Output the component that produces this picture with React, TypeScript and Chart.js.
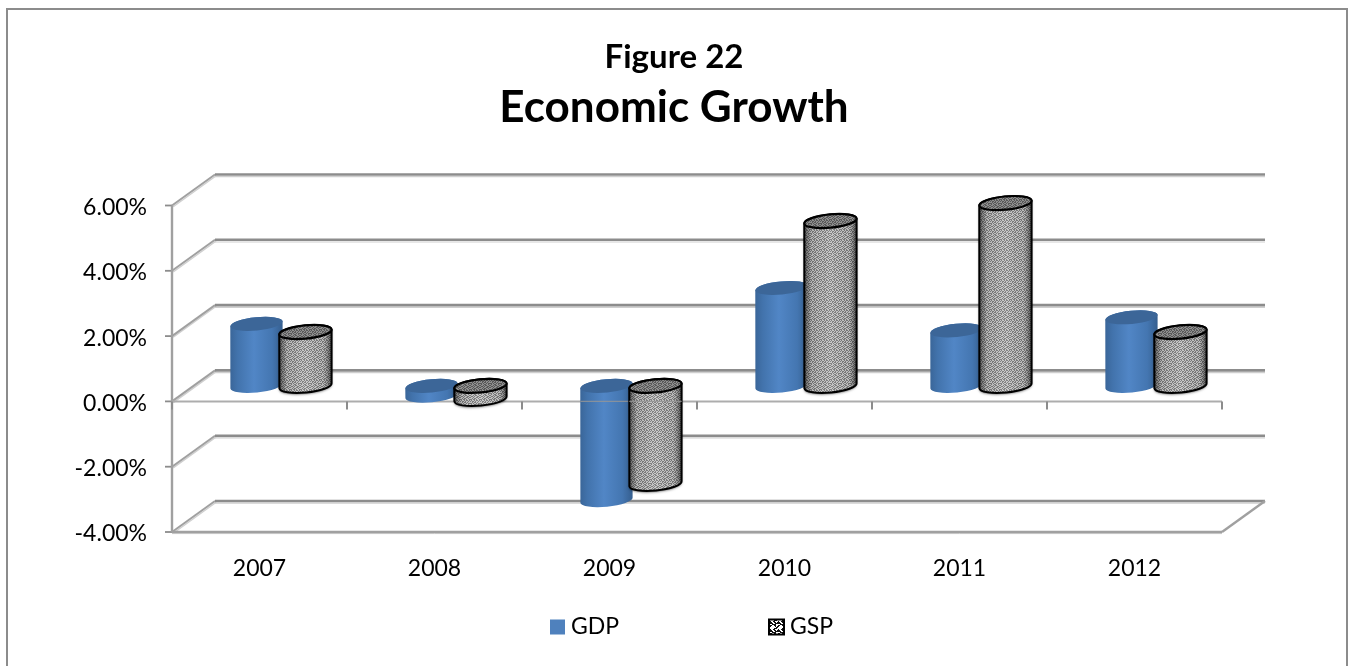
import React, { useEffect, useRef } from "react";
import { Chart, registerables } from "chart.js";

Chart.register(...registerables);

const years = ["2007", "2008", "2009", "2010", "2011", "2012"];
const gdpGrowth = [1.9, -0.3, -3.5, 3.0, 1.7, 2.1];
const gspGrowth = [1.65, -0.4, -3.0, 5.05, 5.6, 1.65];

const FONT = "Lato, 'Open Sans', sans-serif";
const DEPTH_X = 43;
const DEPTH_Y = 31;
const GRID = "#8c8c8c";
const GRID_SOFT = "#cfcfcf";
const AXIS = "#a0a0a0";

// Bit rows for the fine woven fill of the GSP columns.
const weaveRows = [
  "1011010010",
  "0100101101",
  "1101001011",
  "0010110100",
  "1011001101",
  "0110100110",
  "1001011001",
  "0110110010",
  "1101001101",
  "0010010110",
];
// Bit rows for the coarser mosaic in the legend swatch.
const mosaicRows = [
  "11110000",
  "11001100",
  "10011110",
  "00111111",
  "01111100",
  "11011001",
  "10001100",
  "00000110",
];

function makeTile(rows: string[], on: string, off: string) {
  const tile = document.createElement("canvas");
  tile.width = rows[0].length;
  tile.height = rows.length;
  const c = tile.getContext("2d")!;
  rows.forEach((row, y) => {
    [...row].forEach((bit, x) => {
      c.fillStyle = bit === "1" ? on : off;
      c.fillRect(x, y, 1, 1);
    });
  });
  return tile;
}

// One upright cylinder whose ends are slightly tilted ellipses.
function drawCylinder(
  ctx: CanvasRenderingContext2D,
  cx: number,
  topY: number,
  bottomY: number,
  width: number,
  hatched: boolean,
  fill: string | CanvasPattern,
) {
  const a = width / 2;
  const b = 6.6;
  const tilt = (-5.5 * Math.PI) / 180;
  const sideDrop = Math.sin(tilt) * a;

  const body = () => {
    ctx.beginPath();
    ctx.ellipse(cx, bottomY, a, b, tilt, 0, Math.PI, false);
    ctx.lineTo(cx - a, topY - sideDrop);
    ctx.ellipse(cx, topY, a, b, tilt, Math.PI, Math.PI * 2, false);
    ctx.closePath();
  };
  const cap = () => {
    ctx.beginPath();
    ctx.ellipse(cx, topY, a, b, tilt, 0, Math.PI * 2);
    ctx.closePath();
  };

  ctx.save();
  const shade = ctx.createLinearGradient(cx - a, 0, cx + a, 0);
  if (hatched) {
    shade.addColorStop(0, "rgba(0,0,0,0.55)");
    shade.addColorStop(0.14, "rgba(0,0,0,0.08)");
    shade.addColorStop(0.5, "rgba(255,255,255,0.08)");
    shade.addColorStop(0.86, "rgba(0,0,0,0.06)");
    shade.addColorStop(1, "rgba(0,0,0,0.55)");
    ctx.save();
    ctx.shadowColor = "rgba(0,0,0,0.6)";
    ctx.shadowBlur = 2.5;
    ctx.shadowOffsetY = 1.5;
    ctx.fillStyle = "#a0a0a0";
    body();
    ctx.fill();
    ctx.restore();
    ctx.fillStyle = fill;
    body();
    ctx.fill();
    ctx.fillStyle = shade;
    body();
    ctx.fill();
    ctx.strokeStyle = "#000000";
    ctx.lineWidth = 2;
    body();
    ctx.stroke();
    ctx.fillStyle = fill;
    cap();
    ctx.fill();
    ctx.fillStyle = "rgba(0,0,0,0.28)";
    cap();
    ctx.fill();
    ctx.strokeStyle = "#000000";
    ctx.lineWidth = 2.2;
    cap();
    ctx.stroke();
  } else {
    shade.addColorStop(0, "#3a6699");
    shade.addColorStop(0.14, "#4273ac");
    shade.addColorStop(0.45, "#5186c6");
    shade.addColorStop(0.8, "#4476b1");
    shade.addColorStop(1, "#355e8e");
    ctx.fillStyle = shade;
    body();
    ctx.fill();
    ctx.fillStyle = "#3c6698";
    cap();
    ctx.fill();
  }
  ctx.restore();
}

function App() {
  const ref = useRef<HTMLCanvasElement | null>(null);

  useEffect(() => {
    const canvas = ref.current;
    if (!canvas) return;

    const ctx0 = canvas.getContext("2d")!;
    const weave = ctx0.createPattern(makeTile(weaveRows, "#c6c6c6", "#7a7a7a"), "repeat")!;
    const mosaic = ctx0.createPattern(makeTile(mosaicRows, "#ffffff", "#111111"), "repeat")!;

    const walls = {
      id: "walls",
      // The stock rectangles are replaced by the box walls and cylinders.
      beforeDatasetsDraw(chart: any) {
        const { ctx, chartArea, scales } = chart;
        const { left, right } = chartArea;
        const y = scales.y;
        const x = scales.x;

        const stroke = (pts: number[][], color: string, w: number) => {
          ctx.beginPath();
          pts.forEach(([px, py], i) => (i ? ctx.lineTo(px, py) : ctx.moveTo(px, py)));
          ctx.strokeStyle = color;
          ctx.lineWidth = w;
          ctx.stroke();
        };

        ctx.save();
        ctx.lineCap = "butt";
        y.ticks.forEach((t: any) => {
          const py = y.getPixelForValue(t.value);
          const by = py - DEPTH_Y;
          stroke([[left + DEPTH_X, by + 2.2], [right + DEPTH_X, by + 2.2]], GRID_SOFT, 1.2);
          stroke([[left + 1.2, py + 1.2], [left + DEPTH_X + 1.2, by + 1.2]], GRID_SOFT, 1.4);
          stroke([[left, py], [left + DEPTH_X, by]], AXIS, 2);
          stroke([[left + DEPTH_X, by], [right + DEPTH_X, by]], GRID, 2.6);
          stroke([[left - 7, py], [left, py]], GRID, 1.8);
        });

        const bottom = y.getPixelForValue(y.min);
        const zero = y.getPixelForValue(0);
        stroke([[left, y.getPixelForValue(y.max)], [left, bottom]], AXIS, 2.4);
        stroke([[left, bottom + 1.6], [right, bottom + 1.6]], GRID_SOFT, 1);
        stroke([[left, bottom], [right, bottom]], AXIS, 2.4);
        stroke([[right, bottom], [right + DEPTH_X, bottom - DEPTH_Y]], AXIS, 2.4);

        const axisLine = () => stroke([[left, zero], [right, zero]], "#adadad", 2);
        axisLine();
        const step = (right - left) / years.length;
        years.forEach((_, i) => {
          const px = x.getPixelForValue(i) - step / 2;
          stroke([[px, zero], [px, zero + 8]], GRID, 2);
        });
        stroke([[right, zero], [right, zero + 8]], GRID, 2);

        years.forEach((_, i) => {
          chart.data.datasets.forEach((ds: any, d: number) => {
            const bar = chart.getDatasetMeta(d).data[i];
            const cx = bar.x + DEPTH_X / 2;
            const a = bar.y - DEPTH_Y / 2;
            const b = bar.base - DEPTH_Y / 2;
            drawCylinder(ctx, cx, Math.min(a, b), Math.max(a, b), bar.width, d === 1, d === 1 ? weave : ds.backgroundColor);
            // Deep negative columns sit behind the front axis line.
            if (Math.max(a, b) > zero + 20) {
              stroke([[cx - bar.width / 2, zero], [cx + bar.width / 2, zero]], "rgba(150,150,150,0.8)", 1.4);
            }
          });
        });
        ctx.restore();
        return false;
      },
      afterDraw(chart: any) {
        const { ctx, width, height } = chart;
        ctx.save();
        // Outer frame runs off the bottom of the canvas.
        ctx.strokeStyle = "#8c8c8c";
        ctx.lineWidth = 2;
        ctx.beginPath();
        ctx.moveTo(7, height);
        ctx.lineTo(7, 9);
        ctx.lineTo(width - 1, 9);
        ctx.lineTo(width - 1, height);
        ctx.stroke();

        // Legend row below the year labels.
        const legendY = 627;
        const swatchX = [550, 769];
        ctx.font = `23px ${FONT}`;
        ctx.textBaseline = "middle";
        ctx.textAlign = "left";
        chart.data.datasets.forEach((ds: any, d: number) => {
          const sx = swatchX[d];
          ctx.fillStyle = d === 1 ? mosaic : ds.backgroundColor;
          ctx.fillRect(sx, legendY - 7.5, 15, 15);
          if (d === 1) {
            ctx.strokeStyle = "#000000";
            ctx.lineWidth = 2;
            ctx.strokeRect(sx, legendY - 7.5, 15, 15);
          }
          ctx.fillStyle = "#000000";
          ctx.fillText(ds.label, sx + 21, legendY);
        });
        ctx.restore();
      },
    };

    const chart = new Chart(canvas, {
      type: "bar",
      data: {
        labels: years,
        datasets: [
          { label: "GDP", data: gdpGrowth, backgroundColor: "#4f81bd", barPercentage: 1.07, categoryPercentage: 0.56 },
          { label: "GSP", data: gspGrowth, backgroundColor: "#a8a8a8", barPercentage: 1.07, categoryPercentage: 0.56 },
        ],
      },
      options: {
        animation: false,
        responsive: false,
        layout: { padding: 0 },
        plugins: {
          legend: { display: false },
          tooltip: { enabled: false },
          title: {
            display: true,
            text: "Figure 22",
            color: "#000000",
            font: { family: FONT, size: 33, weight: "bold", lineHeight: 1 },
            padding: { top: 41, bottom: 12 },
          },
          subtitle: {
            display: true,
            text: "Economic Growth",
            color: "#000000",
            font: { family: FONT, size: 44, weight: "bold", lineHeight: 1 },
            padding: { top: 0, bottom: 75.5 },
          },
        },
        scales: {
          x: {
            grid: { display: false },
            border: { display: false },
            ticks: { color: "#000000", font: { family: FONT, size: 23 }, padding: 15 },
            afterFit: (s: any) => {
              s.height = 134;
            },
          },
          y: {
            min: -4,
            max: 6,
            grid: { display: false, drawTicks: false },
            border: { display: false },
            ticks: {
              stepSize: 2,
              color: "#000000",
              padding: 25,
              labelOffset: 2,
              font: { family: FONT, size: 23 },
              callback: (v: any) => `${Number(v).toFixed(2)}%`,
            },
            afterFit: (s: any) => {
              s.width = 172;
            },
          },
          // Empty right-hand gutter that keeps the plot clear of the frame.
          gutter: {
            axis: "y",
            position: "right",
            display: true,
            grid: { display: false },
            border: { display: false },
            ticks: { display: false },
            afterFit: (s: any) => {
              s.width = 126;
            },
          },
        },
      } as any,
      plugins: [walls as any],
    });

    return () => chart.destroy();
  }, []);

  return (
    <div style={{ position: "absolute", left: 0, top: 0, width: 1348, height: 666, background: "#ffffff" }}>
      <canvas ref={ref} width={1348} height={666} style={{ display: "block" }} />
    </div>
  );
}

export default App;
